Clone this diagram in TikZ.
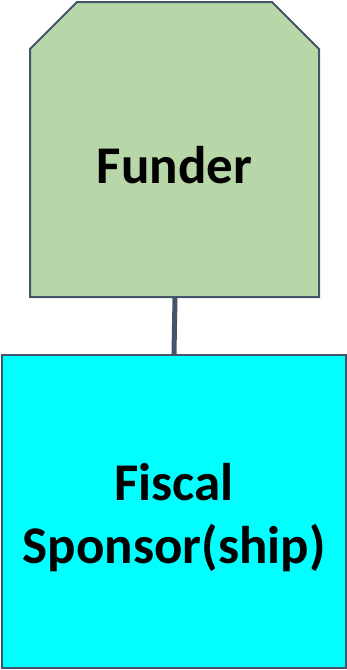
\documentclass[tikz,border=0pt]{standalone}
\usepackage{fontspec}
\setmainfont{Carlito}
\definecolor{funderfill}{RGB}{184,215,168}
\definecolor{sponsorfill}{RGB}{0,255,255}
\definecolor{edgecol}{RGB}{68,84,106}
\begin{document}
\begin{tikzpicture}[x=1pt, y=-1pt,
	boxtext/.style={font=\bfseries\fontsize{53}{63}\selectfont, align=center}]
				\useasboundingbox (0,0) rectangle (347,670);
				\draw[fill=funderfill, draw=edgecol, line width=2pt] (30,49) -- (77,2) -- (272,2) -- (319,49) -- (319,297) -- (30,297) -- cycle;
				\node[boxtext] (funder)at(174.5, 165) {Funder};
				\coordinate (funderbottom) at (175, 297);
				\node[draw=edgecol, fill=sponsorfill, line width=2pt, rectangle, minimum width=344pt, minimum height=313pt, inner sep=0pt] (sponsor)at(174, 511.5) {};
				\node[boxtext] (sponsortext)at(174, 518) {Fiscal\\Sponsor(ship)};
				\draw[draw=edgecol, line width=5pt] (funderbottom) -- (sponsor.north);
			\end{tikzpicture}
\end{document}
